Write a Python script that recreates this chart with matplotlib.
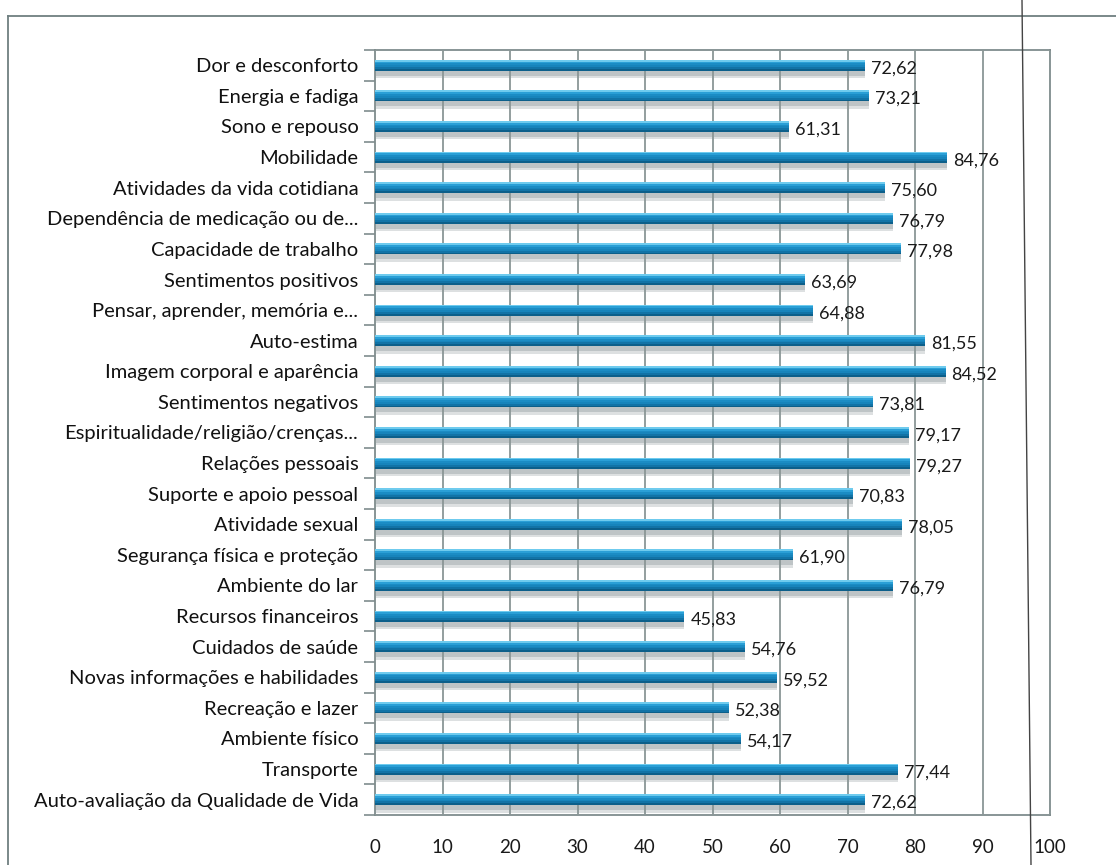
import numpy as np
import matplotlib.pyplot as plt
from matplotlib.lines import Line2D

# -------------------------------
# Data
# -------------------------------
categories = [
    "Dor e desconforto",
    "Energia e fadiga",
    "Sono e repouso",
    "Mobilidade",
    "Atividades da vida cotidiana",
    "Dependência de medicação ou de...",
    "Capacidade de trabalho",
    "Sentimentos positivos",
    "Pensar, aprender, memória e...",
    "Auto-estima",
    "Imagem corporal e aparência",
    "Sentimentos negativos",
    "Espiritualidade/religião/crenças...",
    "Relações pessoais",
    "Suporte e apoio pessoal",
    "Atividade sexual",
    "Segurança física e proteção",
    "Ambiente do lar",
    "Recursos financeiros",
    "Cuidados de saúde",
    "Novas informações e habilidades",
    "Recreação e lazer",
    "Ambiente físico",
    "Transporte",
    "Auto-avaliação da Qualidade de Vida",
]
values = [72.62, 73.21, 61.31, 84.76, 75.60, 76.79, 77.98, 63.69, 64.88, 81.55,
          84.52, 73.81, 79.17, 79.27, 70.83, 78.05, 61.90, 76.79, 45.83, 54.76,
          59.52, 52.38, 54.17, 77.44, 72.62]
x_ticks = [0, 10, 20, 30, 40, 50, 60, 70, 80, 90, 100]

# -------------------------------
# Figure
# -------------------------------
plt.rcParams['font.family'] = ['Lato', 'DejaVu Sans']

fig = plt.figure(figsize=(11.16, 8.65), dpi=100)
ax = fig.add_axes([375 / 1116, 1 - 815 / 865, (1050 - 375) / 1116, (815 - 50) / 865])

n = len(categories)
y = np.arange(n)
h = 0.36

# soft shadow under each bar (3D look)
ax.barh(y + 0.27, values, height=0.30, color="#b5bcbe", alpha=0.45, zorder=1)
ax.barh(y + 0.25, values, height=0.18, color="#9aa3a6", alpha=0.45, zorder=1)

# bar body as a vertical gradient: light top edge -> blue -> dark bottom
strip_cols = ["#6fcbee", "#2a9fd6", "#1b8cc4", "#1784bb", "#1273a6", "#0c5f8a"]
ns = len(strip_cols)
for k, c in enumerate(strip_cols):
    off = -h / 2 + (k + 0.5) * h / ns
    ax.barh(y + off, values, height=h / ns * 1.05, color=c, zorder=3, linewidth=0)

for yi, v in zip(y, values):
    ax.text(v + 0.9, yi + 0.1, f"{v:.2f}".replace(".", ","), va="center", ha="left",
            fontsize=13, color="#1a1a1a", zorder=5)

ax.set_xlim(0, 100)
ax.set_ylim(n - 0.5, -0.5)
ax.set_xticks(x_ticks)
ax.set_xticklabels([str(t) for t in x_ticks], fontsize=13.5, color="#1a1a1a")
ax.tick_params(axis="x", length=0, pad=17)

ax.set_yticks(y)
ax.set_yticklabels(categories, fontsize=14.5, color="#111111")
ax.tick_params(axis="y", which="major", length=0, pad=12)
ax.set_yticks(np.arange(n + 1) - 0.5, minor=True)
ax.tick_params(axis="y", which="minor", length=8, color="#7f8c8d", width=1.2)

ax.grid(axis="x", color="#8a9696", linewidth=1.3, zorder=2)
ax.set_axisbelow(False)
for side in ["left", "right", "top", "bottom"]:
    ax.spines[side].set_color("#7f8c8d")
    ax.spines[side].set_linewidth(1.3)

# outer chart frame and scan line
fig.add_artist(Line2D([8 / 1116, 1.0], [1 - 16 / 865, 1 - 16 / 865],
                      color="#6f7f80", linewidth=1.3))
fig.add_artist(Line2D([8 / 1116, 8 / 1116], [0, 1 - 16 / 865],
                      color="#6f7f80", linewidth=1.3))
fig.add_artist(Line2D([1022 / 1116, 1031 / 1116], [1, 0],
                      color="#444444", linewidth=1.0))

fig.savefig("out.png", dpi=100)
